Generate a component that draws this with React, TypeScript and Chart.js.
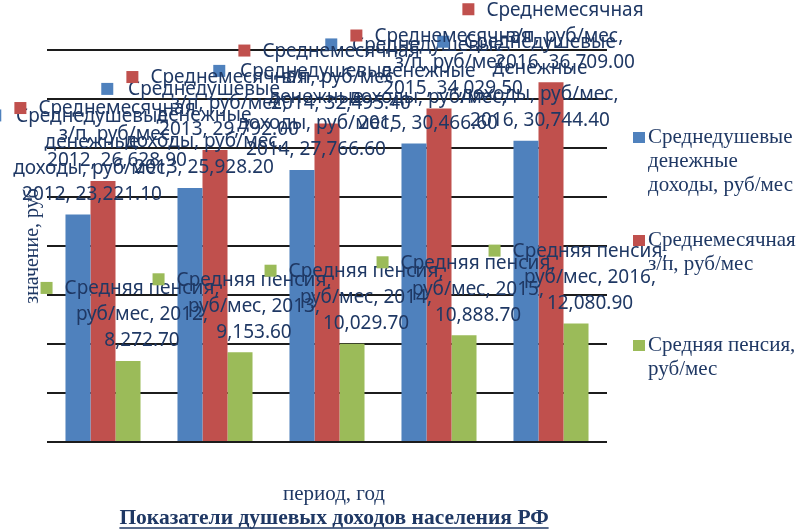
import { useEffect, useRef } from "react";
import { Chart, registerables } from "chart.js";

Chart.register(...registerables);

// Периоды и показатели (руб/мес)
const years = ["2012", "2013", "2014", "2015", "2016"];
const incomePerCapita = [23221.1, 25928.2, 27766.6, 30466.6, 30744.4];
const avgWage = [26628.9, 29792.0, 32495.4, 34029.5, 36709.0];
const avgPension = [8272.7, 9153.6, 10029.7, 10888.7, 12080.9];

const seriesNames = [
  "Среднедушевые денежные доходы, руб/мес",
  "Среднемесячная з/п, руб/мес",
  "Средняя пенсия, руб/мес",
];
const legendLines = [
  ["Среднедушевые", "денежные", "доходы, руб/мес"],
  ["Среднемесячная", "з/п, руб/мес"],
  ["Средняя пенсия,", "руб/мес"],
];
const seriesColors = ["#4F81BD", "#C0504D", "#9BBB59"];

const axisTitleX = "период, год";
const axisTitleY = "значение, руб";
const chartTitle = "Показатели душевых доходов населения РФ";

const yMin = 0;
const yMax = 40000;
const yStep = 5000;

const TEXT_COLOR = "#1F3864";
const LABEL_FONT = '19px "Noto Sans"';
const SERIF = '"Liberation Serif", "Times New Roman", serif';

const fmt = (v: number) =>
  v.toLocaleString("en-US", { minimumFractionDigits: 2, maximumFractionDigits: 2 });

function wrapText(ctx: CanvasRenderingContext2D, text: string, maxWidth: number): string[] {
  const words = text.split(" ");
  const lines: string[] = [];
  let cur = "";
  for (const w of words) {
    const next = cur ? cur + " " + w : w;
    if (cur && ctx.measureText(next).width > maxWidth) {
      lines.push(cur);
      cur = w;
    } else {
      cur = next;
    }
  }
  if (cur) lines.push(cur);
  return lines;
}

// Vertical axis title, drawn beneath the data labels
const axisTitlePlugin = {
  id: "axisTitleY",
  beforeDatasetsDraw(chart: any) {
    const { ctx, chartArea } = chart;
    ctx.save();
    ctx.font = `20px ${SERIF}`;
    ctx.fillStyle = TEXT_COLOR;
    ctx.textAlign = "center";
    ctx.textBaseline = "middle";
    ctx.translate(chartArea.left - 14, (chartArea.top + chartArea.bottom) / 2);
    ctx.rotate(-Math.PI / 2);
    ctx.fillText(axisTitleY, 0, 0);
    ctx.restore();
  },
};

// Data labels: legend key + series name, category and value above each bar
const barLabelPlugin = {
  id: "barLabels",
  afterDatasetsDraw(chart: any) {
    const ctx: CanvasRenderingContext2D = chart.ctx;
    ctx.save();
    ctx.font = LABEL_FONT;
    ctx.textAlign = "center";
    ctx.textBaseline = "middle";
    const lineH = 26;
    chart.data.datasets.forEach((ds: any, di: number) => {
      const meta = chart.getDatasetMeta(di);
      meta.data.forEach((bar: any, i: number) => {
        const text = `${ds.label}, ${chart.data.labels[i]}, ${fmt(ds.data[i])}`;
        const lines = wrapText(ctx, text, 158);
        const cx = bar.x + 14;
        const lastY = bar.y - 20;
        const firstY = lastY - (lines.length - 1) * lineH;
        const maxW = Math.max(...lines.map((l) => ctx.measureText(l).width));
        ctx.fillStyle = ds.backgroundColor;
        ctx.fillRect(cx - maxW / 2 - 24, firstY - 7, 12, 12);
        ctx.fillStyle = TEXT_COLOR;
        lines.forEach((l, k) => ctx.fillText(l, cx, firstY + k * lineH));
      });
    });
    ctx.restore();
  },
};

// Legend on the right, axis title below and chart title
const decorPlugin = {
  id: "decor",
  afterDraw(chart: any) {
    const ctx: CanvasRenderingContext2D = chart.ctx;
    const { chartArea } = chart;
    ctx.save();
    ctx.textBaseline = "middle";
    ctx.textAlign = "left";
    ctx.font = `21px ${SERIF}`;
    const lx = chartArea.right + 26;
    const entryY = [137, 240, 345];
    chart.data.datasets.forEach((ds: any, di: number) => {
      const y0 = entryY[di];
      ctx.fillStyle = ds.backgroundColor;
      ctx.fillRect(lx, y0 - 5, 12, 11);
      ctx.fillStyle = TEXT_COLOR;
      legendLines[di].forEach((l, k) => ctx.fillText(l, lx + 15, y0 + k * 24));
    });

    const cx = (chartArea.left + chartArea.right) / 2 + 7;
    ctx.textAlign = "center";
    ctx.font = `21px ${SERIF}`;
    ctx.fillText(axisTitleX, cx, chartArea.bottom + 52);

    ctx.font = `bold 21.5px ${SERIF}`;
    const ty = chartArea.bottom + 76;
    ctx.fillText(chartTitle, cx, ty);
    const tw = ctx.measureText(chartTitle).width;
    ctx.strokeStyle = TEXT_COLOR;
    ctx.lineWidth = 1.5;
    ctx.beginPath();
    ctx.moveTo(cx - tw / 2, ty + 10);
    ctx.lineTo(cx + tw / 2, ty + 10);
    ctx.stroke();
    ctx.restore();
  },
};

export default function App() {
  const canvasRef = useRef<HTMLCanvasElement | null>(null);

  useEffect(() => {
    if (!canvasRef.current) return;
    const seriesValues = [incomePerCapita, avgWage, avgPension];
    const chart = new Chart(canvasRef.current, {
      type: "bar",
      data: {
        labels: years,
        datasets: seriesValues.map((vals, i) => ({
          label: seriesNames[i],
          data: vals,
          backgroundColor: seriesColors[i],
          borderWidth: 0,
          categoryPercentage: 0.67,
          barPercentage: 1.0,
        })),
      },
      options: {
        animation: false,
        responsive: false,
        devicePixelRatio: 1,
        layout: { padding: { left: 47, right: 199, top: 50, bottom: 90 } },
        scales: {
          x: { display: false },
          y: {
            min: yMin,
            max: yMax,
            ticks: { display: false, stepSize: yStep },
            grid: { color: "#1c1c1c", lineWidth: 2, drawTicks: false },
            border: { display: false },
          },
        },
        plugins: {
          legend: { display: false },
          tooltip: { enabled: false },
          title: { display: false },
        },
      },
      plugins: [axisTitlePlugin, barLabelPlugin, decorPlugin],
    });
    return () => chart.destroy();
  }, []);

  return (
    <div style={{ position: "absolute", left: 0, top: 0, width: 806, height: 532, background: "#fff" }}>
      <canvas ref={canvasRef} width={806} height={532} style={{ display: "block" }} />
    </div>
  );
}
